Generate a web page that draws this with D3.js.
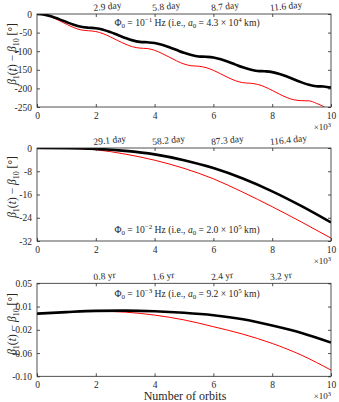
<!DOCTYPE html>
<html><head><meta charset="utf-8">
<script src="https://cdn.jsdelivr.net/npm/d3@7"></script>
<style>
body{margin:0;background:#fff;}
svg text{font-family:"Liberation Serif","DejaVu Serif",serif;fill:#262626;}
</style></head>
<body><svg id="c" width="339" height="402"></svg>
<script>
// ---------- data ----------
const orbits1 = [0,0.25,0.5,0.75,1,1.25,1.5,1.75,2,2.25,2.5,2.75,3,3.25,3.5,3.75,4,4.25,4.5,4.75,5,5.25,5.5,5.75,6,6.25,6.5,6.75,7,7.25,7.5,7.75,8,8.25,8.5,8.75,9,9.25,9.5,9.75,10];
const black1 = [0,-1.7,-6.6,-13.7,-21.7,-29.1,-34.5,-36.9,-38.1,-42.1,-48.7,-56.5,-64.3,-70.9,-74.9,-76.1,-78.1,-82.9,-89.5,-97,-104.4,-110.3,-114.1,-115.1,-117.1,-121.9,-128.5,-136,-143.4,-149.3,-153.1,-154.1,-156.2,-161.2,-168.1,-176.1,-183.8,-190.1,-194,-195.1,-198];
const red1 = [0,-2.2,-8.5,-17.5,-27.5,-36.5,-42.8,-45,-47.1,-53,-61.6,-71.5,-80.8,-88,-91.7,-92.8,-97.6,-105.9,-116,-126.1,-134.4,-139.2,-140.4,-144.2,-151.5,-161,-170.9,-179.3,-184.6,-186.1,-189.1,-196,-205.4,-215.6,-224.6,-230.8,-233,-233.5,-240,-249,-262];
const orbits2 = [0,1,2,3,4,5,6,7,8,9,10];
const black2 = [0,-0.05,-0.3,-1.0,-2.2,-4.2,-6.9,-10.5,-14.9,-20.0,-25.6];
const red2 = [0,-0.1,-0.6,-2.1,-4.2,-7.0,-10.6,-15.2,-20.2,-25.5,-31.0];
const orbits3 = [0,1,2,3,4,5,6,7,8,9,10];
const black3 = [0.001,0.0035,0.0055,0.006,0.005,0.0025,-0.0015,-0.008,-0.018,-0.030,-0.0455];
const red3 = [0.001,0.0035,0.005,0.0035,-0.0013,-0.009,-0.020,-0.032,-0.047,-0.066,-0.090];
const xTicks = [0,2,4,6,8,10];
const topTickPos = [2,4,6,8];
const topLabels1 = ["2.9 day","5.8 day","8.7 day","11.6 day"];
const topLabels2 = ["29.1 day","58.2 day","87.3 day","116.4 day"];
const topLabels3 = ["0.8 yr","1.6 yr","2.4 yr","3.2 yr"];
const yTicks1 = [0,-50,-100,-150,-200,-250];
const yTicks2 = [0,-8,-16,-24,-32];
const yTickPos3 = [0.05,0.0125,-0.025,-0.0625,-0.10];
const yTickLabels3 = ["0.05","0.01","-0.02","-0.06","-0.10"];
const exps = ["\u22121","\u22122","\u22123"];
const a0 = [["4.3","4"],["2.0","5"],["9.2","5"]];

// ---------- drawing ----------
const svg = d3.select("#c");
const L = 37, R = 331, H = 93;
const FS = 9;
const panels = [
  {top:14, xs:orbits1, b:black1, r:red1, dom:[-250,0], yt:yTicks1, ytl:yTicks1.map(String), tl:topLabels1, annY:26, ylabY:54},
  {top:148, xs:orbits2, b:black2, r:red2, dom:[-32,0], yt:yTicks2, ytl:yTicks2.map(String), tl:topLabels2, annY:233, ylabY:187},
  {top:283.3, xs:orbits3, b:black3, r:red3, dom:[-0.10,0.05], yt:yTickPos3, ytl:yTickLabels3, tl:topLabels3, annY:297, ylabY:324}
];
const x = d3.scaleLinear().domain([0,10]).range([L,R]);
const axisCol = "#262626";

panels.forEach((p,i)=>{
  const y = d3.scaleLinear().domain(p.dom).range([p.top+H,p.top]);
  const g = svg.append("g");
  const clipId = "clip"+i;
  svg.append("clipPath").attr("id",clipId).append("rect").attr("x",L).attr("y",p.top).attr("width",R-L).attr("height",H);
  const line = d3.line().x((d,j)=>x(p.xs[j])).y(d=>y(d)).curve(d3.curveMonotoneX);
  g.append("path").datum(p.r).attr("d",line).attr("fill","none").attr("stroke","#ff0000").attr("stroke-width",1).attr("clip-path",`url(#${clipId})`);
  g.append("path").datum(p.b).attr("d",line).attr("fill","none").attr("stroke","#000").attr("stroke-width",2.6).attr("clip-path",`url(#${clipId})`);
  // box
  g.append("rect").attr("x",L).attr("y",p.top).attr("width",R-L).attr("height",H).attr("fill","none").attr("stroke",axisCol).attr("stroke-width",0.8);
  // bottom axis
  const bx = d3.axisBottom(x).tickValues(xTicks).tickSize(-3).tickPadding(6).tickFormat(d3.format("d"));
  const ga = g.append("g").attr("transform",`translate(0,${p.top+H})`).call(bx);
  ga.select(".domain").remove();
  ga.selectAll("line").attr("stroke",axisCol).attr("stroke-width",0.8);
  ga.selectAll("text").attr("font-size",FS+0.5).attr("fill",axisCol).attr("dy","0.6em");
  // top ticks (inward)
  const tx = d3.axisTop(x).tickValues(topTickPos).tickSize(-3).tickFormat("");
  const gt = g.append("g").attr("transform",`translate(0,${p.top})`).call(tx);
  gt.select(".domain").remove();
  gt.selectAll("line").attr("stroke",axisCol).attr("stroke-width",0.8);
  // top labels
  g.selectAll(".tl").data(topTickPos).enter().append("text")
    .attr("transform",(d,j)=>`translate(${x(d)-2},${p.top-3}) rotate(-6)`)
    .attr("font-size",FS+0.5).text((d,j)=>p.tl[j]);
  // left axis
  const ly = d3.axisLeft(y).tickValues(p.yt).tickSize(-3).tickPadding(5).tickFormat((d,j)=>p.ytl[j]);
  const gl = g.append("g").attr("transform",`translate(${L},0)`).call(ly);
  gl.select(".domain").remove();
  gl.selectAll("line").attr("stroke",axisCol).attr("stroke-width",0.8);
  gl.selectAll("text").attr("font-size",FS+0.5).attr("fill",axisCol);
  // right ticks
  const ry = d3.axisRight(y).tickValues(p.yt).tickSize(-3).tickFormat("");
  const gr = g.append("g").attr("transform",`translate(${R},0)`).call(ry);
  gr.select(".domain").remove();
  gr.selectAll("line").attr("stroke",axisCol).attr("stroke-width",0.8);
  // x10^3
  const m = g.append("text").attr("x",R).attr("y",p.top+H+23).attr("text-anchor","end").attr("font-size",FS);
  m.append("tspan").text("\u00d710");
  m.append("tspan").attr("font-size",6.5).attr("dy",-3.5).text("3");
  // annotation
  const an = g.append("text").attr("x",187).attr("y",p.annY).attr("text-anchor","middle").attr("font-size",9.6);
  an.append("tspan").text("\u03a6");
  an.append("tspan").attr("font-size",7).attr("dy",2).text("0");
  an.append("tspan").attr("dy",-2).text(" = 10");
  an.append("tspan").attr("font-size",7).attr("dy",-4).text(exps[i]);
  an.append("tspan").attr("dy",4).text(" Hz (i.e., ");
  an.append("tspan").attr("font-style","italic").text("a");
  an.append("tspan").attr("font-size",7).attr("dy",2).text("0");
  an.append("tspan").attr("dy",-2).text(" = "+a0[i][0]+" \u00d7 10");
  an.append("tspan").attr("font-size",7).attr("dy",-4).text(a0[i][1]);
  an.append("tspan").attr("dy",4).text(" km)");
  // y label
  const yl = g.append("text").attr("transform",`translate(16,${p.ylabY}) rotate(-90)`).attr("text-anchor","middle").attr("font-size",11.5);
  yl.append("tspan").attr("font-style","italic").text("\u03b2");
  yl.append("tspan").attr("font-size",8).attr("dy",2.5).text("1");
  yl.append("tspan").attr("dy",-2.5).text("(");
  yl.append("tspan").attr("font-style","italic").text("t");
  yl.append("tspan").text(") \u2212 ");
  yl.append("tspan").attr("font-style","italic").text("\u03b2");
  yl.append("tspan").attr("font-size",8).attr("dy",2.5).text("10");
  yl.append("tspan").attr("dy",-2.5).text(" [\u00b0]");
});
svg.append("text").attr("x",185).attr("y",400).attr("text-anchor","middle").attr("font-size",12).text("Number of orbits");
</script></body></html>
